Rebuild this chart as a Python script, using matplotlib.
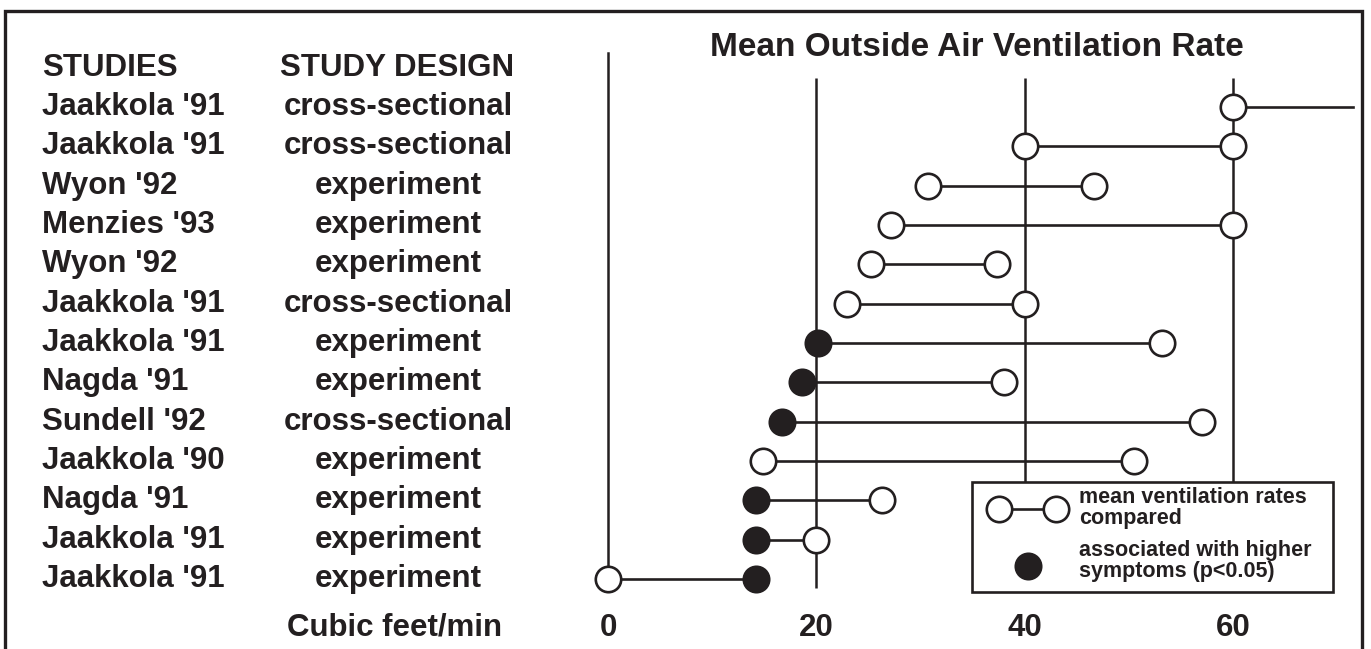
import matplotlib.pyplot as plt
from matplotlib.patches import Rectangle

plt.rcParams['font.family'] = ['Liberation Sans', 'DejaVu Sans']
plt.rcParams['font.weight'] = 'bold'

INK = '#231f20'

# one row per comparison, top to bottom
studies = ["Jaakkola '91", "Jaakkola '91", "Wyon '92", "Menzies '93", "Wyon '92",
           "Jaakkola '91", "Jaakkola '91", "Nagda '91", "Sundell '92", "Jaakkola '90",
           "Nagda '91", "Jaakkola '91", "Jaakkola '91"]
designs = ["cross-sectional", "cross-sectional", "experiment", "experiment", "experiment",
           "cross-sectional", "experiment", "experiment", "cross-sectional", "experiment",
           "experiment", "experiment", "experiment"]
low_rate = [60, 40, 30.7, 27.2, 25.2, 22.9, 20.2, 18.6, 16.7, 14.9, 14.2, 14.2, 0]
high_rate = [71.5, 60, 46.7, 60, 37.3, 40, 53.2, 38.0, 57.0, 50.5, 26.3, 20, 14.2]
low_filled = [False, False, False, False, False, False, True, True, True, False, True, True, False]
high_filled = [False, False, False, False, False, False, False, False, False, False, False, False, True]
high_marker = [False] + [True] * 12   # first row runs off the right of the scale

ticks = [0, 20, 40, 60]

# pixel layout of the original: x=0 at 608px, 10.417px per cfm; rows 39.33px apart from 107px
X0, XS = 608, 10.417
Y0, YS = 107, 39.33
W, H = 1371, 649


def px(x):
    return (x - X0) / XS


def py(y):
    return (y - Y0) / YS


fig = plt.figure(figsize=(W / 100, H / 100), dpi=100)
ax = fig.add_axes([0, 0, 1, 1])
ax.axis('off')
ax.set_xlim(px(0), px(W))
ax.set_ylim(py(H), py(0))

# outer frame
fig.add_artist(Rectangle((5 / W, -0.05), 1357 / W, 1 - 11 / H + 0.05,
                         transform=fig.transFigure, fill=False, lw=2.4, ec=INK))

# reference lines
ax.plot([0, 0], [py(53), len(studies) - 1], c=INK, lw=1.8, zorder=1)
ax.vlines(ticks[1:], py(78), py(588), colors=INK, lw=1.8, zorder=1)

ms, mew = 18.3, 1.9
fs = 22.5
for i in range(len(studies)):
    ax.plot([low_rate[i], high_rate[i]], [i, i], c=INK, lw=1.9, zorder=2)
    ax.plot(low_rate[i], i, 'o', ms=ms, mew=mew, mec=INK,
            mfc=INK if low_filled[i] else 'white', zorder=3)
    if high_marker[i]:
        ax.plot(high_rate[i], i, 'o', ms=ms, mew=mew, mec=INK,
                mfc=INK if high_filled[i] else 'white', zorder=3)
    ax.text(px(42), i, studies[i], fontsize=fs, color=INK, ha='left', va='center')
    ax.text(px(398), i, designs[i], fontsize=fs, color=INK, ha='center', va='center')

# headers and title
ax.text(px(42), py(68), 'STUDIES', fontsize=fs, color=INK, ha='left', va='center')
ax.text(px(397), py(68), 'STUDY DESIGN', fontsize=fs, color=INK, ha='center', va='center')
ax.text(px(977), py(48), 'Mean Outside Air Ventilation Rate', fontsize=24, color=INK,
        ha='center', va='center')

# axis labels at the bottom
ax.text(px(395), py(628), 'Cubic feet/min', fontsize=fs, color=INK, ha='center', va='center')
for t in ticks:
    ax.text(t, py(628), str(t), fontsize=fs, color=INK, ha='center', va='center')

# legend box
ax.add_patch(Rectangle((px(972), py(482)), px(1333) - px(972), py(592) - py(482),
                       fc='white', ec=INK, lw=1.9, zorder=4))
ax.plot([px(999), px(1056)], [py(509), py(509)], c=INK, lw=1.9, zorder=5)
ax.plot([px(999), px(1056)], [py(509), py(509)], 'o', ms=ms, mew=mew, mec=INK,
        mfc='white', zorder=6)
ax.plot(px(1028), py(566), 'o', ms=ms, mew=mew, mec=INK, mfc=INK, zorder=6)
legend_lines = [('mean ventilation rates', 503), ('compared', 524),
                ('associated with higher', 556), ('symptoms (p<0.05)', 577)]
for txt, base in legend_lines:
    ax.text(px(1079), py(base), txt, fontsize=15.5, color=INK, ha='left',
            va='baseline', zorder=6)

fig.savefig('out.png', dpi=100)
